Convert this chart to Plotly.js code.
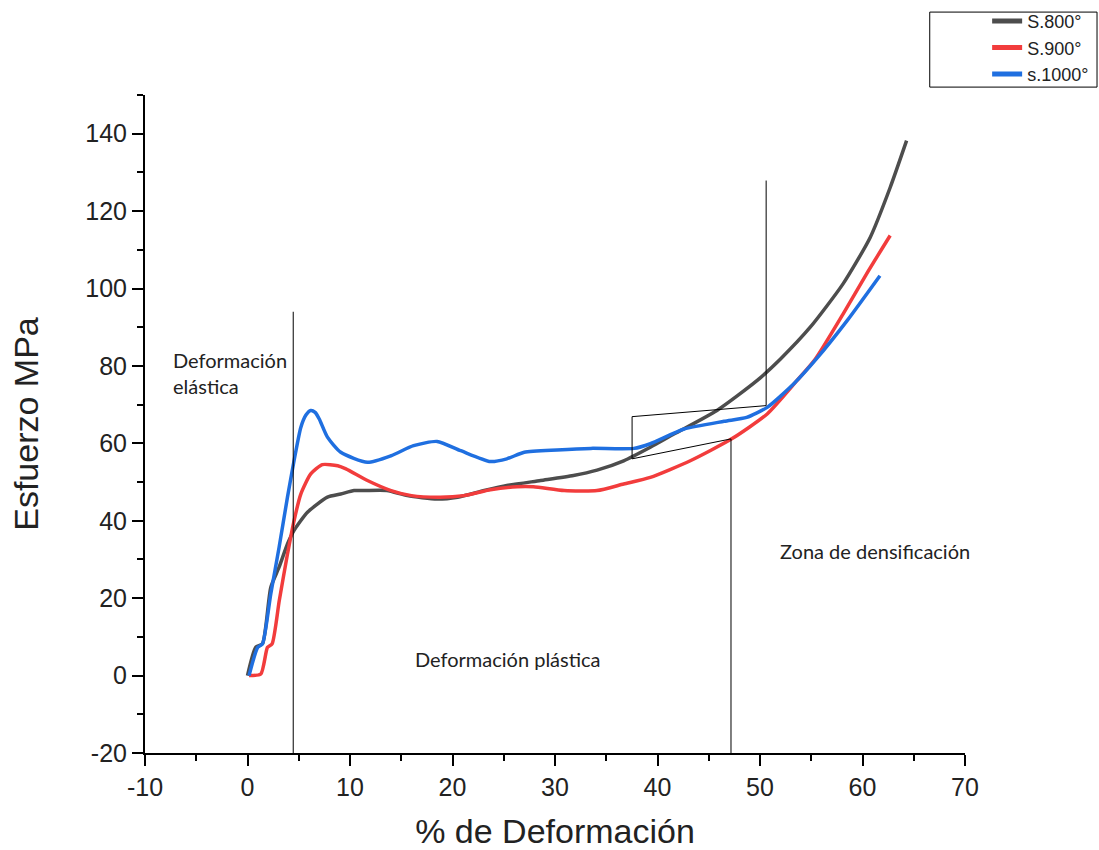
<!DOCTYPE html>
<html>
<head>
<meta charset="utf-8">
<script src="https://cdn.plot.ly/plotly-3.0.1.min.js"></script>
<style>html,body{margin:0;padding:0;background:#fff;}#chart{width:1099px;height:850px;}</style>
</head>
<body>
<div id="chart"></div>
<script>
// S.800°
var x800 = [0, 0.8, 1.46, 2.27, 3.08, 3.9, 4.54, 5.85, 7.8, 9.1, 10.4, 11.4, 13.6, 15.6, 18.5, 20.5, 23.1, 25.3, 28.6, 31.8, 34.1, 36.7, 39.3, 41.6, 45.8, 49.7, 52.0, 54.9, 58.1, 60.75, 62.7, 64.3];
var y800 = [0, 7.3, 8.2, 22.8, 28.0, 34.0, 37.5, 42.2, 46.1, 46.9, 47.8, 47.8, 47.8, 46.5, 45.6, 46.1, 47.8, 49.1, 50.4, 51.7, 53.1, 55.5, 59.0, 62.4, 68.5, 76.2, 81.8, 90.0, 101.2, 113.2, 126.1, 138.2];
// S.900°
var x900 = [0.15, 1.3, 1.95, 2.4, 3.1, 3.9, 4.54, 5.2, 6.17, 7.3, 8.8, 9.6, 11.7, 14.0, 16.0, 18.8, 21.1, 23.7, 26.3, 27.9, 30.9, 34.1, 36.7, 39.3, 43.2, 47.2, 50.7, 53.6, 55.4, 58.1, 60.4, 62.7];
var y900 = [0, 0.4, 7.3, 8.2, 19.4, 31.4, 40.0, 46.9, 52.1, 54.5, 54.2, 53.4, 50.4, 47.8, 46.5, 46.1, 46.5, 48.0, 48.8, 48.8, 47.8, 47.8, 49.5, 51.2, 55.5, 61.1, 67.6, 76.2, 81.8, 93.4, 103.8, 113.7];
// s.1000°
var x1000 = [0.15, 1.0, 1.46, 2.27, 3.08, 3.9, 4.54, 5.2, 5.7, 6.17, 6.6, 7.0, 7.8, 9.1, 11.7, 14.0, 16.2, 18.5, 20.8, 23.7, 25.3, 27.0, 30.2, 33.5, 37.7, 39.3, 42.6, 46.5, 48.7, 50.7, 53.3, 55.5, 58.5, 61.7];
var y1000 = [0, 7.3, 8.2, 21.1, 33.1, 46.1, 55.5, 64.1, 67.3, 68.5, 68.0, 66.3, 61.6, 57.7, 55.1, 56.8, 59.4, 60.5, 58.1, 55.3, 56.0, 57.7, 58.3, 58.7, 58.7, 59.9, 63.7, 65.7, 66.7, 69.3, 75.4, 81.8, 91.7, 103.3];

var seriesNames = ["S.800°", "S.900°", "s.1000°"];
var seriesColors = ["#4d4d4d", "#f23c3c", "#1f6fe0"];

var xTickVals = [-10, 0, 10, 20, 30, 40, 50, 60, 70];
var xTickText = ["-10", "0", "10", "20", "30", "40", "50", "60", "70"];
var yTickVals = [-20, 0, 20, 40, 60, 80, 100, 120, 140];
var yTickText = ["-20", "0", "20", "40", "60", "80", "100", "120", "140"];

// zone separators (data coords)
var sepLines = [
  [4.46, -20, 4.46, 94.0],
  [47.17, -20, 47.17, 61.15],
  [50.6, 69.75, 50.6, 127.9],
  [37.52, 66.9, 50.6, 69.75],
  [37.52, 56.0, 47.17, 61.15],
  [37.52, 56.0, 37.52, 66.9]
];
var zoneLabels = [
  {text: "Deformación<br>elástica", x: -7.5, y: 78.3, anchor: "left"},
  {text: "Deformación plástica", x: 25.4, y: 4.4, anchor: "center"},
  {text: "Zona de densificación", x: 51.8, y: 32.3, anchor: "left"}
];

var xs = [x800, x900, x1000], ys = [y800, y900, y1000];
var traces = xs.map(function (xv, i) {
  return {x: xv, y: ys[i], type: "scatter", mode: "lines", name: seriesNames[i],
          line: {color: seriesColors[i], width: 3.5, shape: "spline", smoothing: 0.6}};
});

var shapes = sepLines.map(function (s) {
  return {type: "line", xref: "x", yref: "y", x0: s[0], y0: s[1], x1: s[2], y1: s[3],
          line: {color: "#000", width: 1}};
});
// legend frame
shapes.push({type: "rect", xref: "paper", yref: "paper", x0: 0.957, x1: 1.161, y0: 1.012, y1: 1.126,
             line: {color: "#000", width: 1}, fillcolor: "rgba(0,0,0,0)"});

var annotations = zoneLabels.map(function (a) {
  return {text: a.text, x: a.x, y: a.y, xref: "x", yref: "y", xanchor: a.anchor, yanchor: "middle",
          align: "left", showarrow: false, font: {family: "Lato, sans-serif", size: 20, color: "#222"}};
});

var axisFont = {family: "Liberation Sans, Arial, sans-serif", size: 25, color: "#222"};
var titleFont = {family: "Liberation Sans, Arial, sans-serif", size: 34, color: "#222"};
var layout = {
  width: 1099, height: 850,
  margin: {l: 144.5, r: 134, t: 95, b: 97.3, autoexpand: false},
  paper_bgcolor: "#fff", plot_bgcolor: "#fff",
  showlegend: true,
  legend: {x: 1.027, y: 1.14, xanchor: "left", yanchor: "top", bgcolor: "rgba(0,0,0,0)",
           borderwidth: 0, font: {family: "Liberation Sans, Arial, sans-serif", size: 18, color: "#222"},
           tracegroupgap: 0, itemsizing: "constant"},
  xaxis: {range: [-10, 70], tickvals: xTickVals, ticktext: xTickText, showgrid: false, zeroline: false,
          showline: true, linecolor: "#000", linewidth: 2, mirror: false,
          ticks: "outside", ticklen: 11, tickwidth: 2, tickcolor: "#000",
          minor: {dtick: 5, tick0: -10, ticks: "outside", ticklen: 6, tickwidth: 2, tickcolor: "#000", showgrid: false},
          tickfont: axisFont,
          title: {text: "% de Deformación", font: titleFont, standoff: 22}},
  yaxis: {range: [-20, 150], tickvals: yTickVals, ticktext: yTickText, showgrid: false, zeroline: false,
          showline: true, linecolor: "#000", linewidth: 2,
          ticks: "outside", ticklen: 11, tickwidth: 2, tickcolor: "#000",
          minor: {dtick: 10, tick0: -20, ticks: "outside", ticklen: 6, tickwidth: 2, tickcolor: "#000", showgrid: false},
          tickfont: axisFont,
          title: {text: "Esfuerzo MPa", font: titleFont, standoff: 36}},
  shapes: shapes,
  annotations: annotations
};

Plotly.newPlot("chart", traces, layout, {displayModeBar: false, staticPlot: true});
</script>
</body>
</html>
